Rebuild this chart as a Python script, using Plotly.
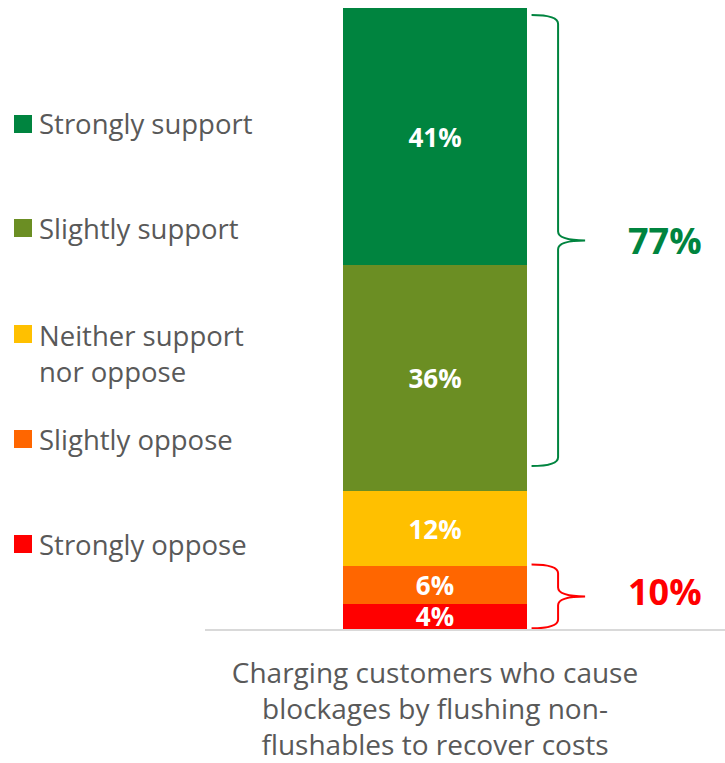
import plotly.graph_objects as go

# Survey responses, bottom of the stack first
categories = ["Strongly oppose", "Slightly oppose", "Neither support<br>nor oppose",
              "Slightly support", "Strongly support"]
values = [4, 6, 12, 36, 41]
colors = ["#FF0000", "#FF6600", "#FFC000", "#6B8E23", "#00843F"]
question = "Charging customers who cause<br>blockages by flushing non-<br>flushables to recover costs"

support_total = values[3] + values[4]
oppose_total = values[0] + values[1]
stack_top = sum(values)

TEXT_GREY = "#595959"
FONT = "Open Sans"

fig = go.Figure()
for name, v, c in zip(categories, values, colors):
    fig.add_trace(go.Bar(
        x=[question], y=[v], name=name.replace("<br>", " "),
        marker=dict(color=c, line=dict(width=0)),
        width=0.6,
        text=[f"{v}%"], textposition="inside", insidetextanchor="middle",
        textfont=dict(family=FONT, size=26, color="white", weight="bold"),
        showlegend=False,
    ))


def brace(y_top, y_bot, x0, x1, x2, r):
    """Right-facing curly brace path (x in paper units, y in data units)."""
    ym = (y_top + y_bot) / 2
    return (f"M {x0},{y_top} Q {x1},{y_top} {x1},{y_top - r} "
            f"L {x1},{ym + r} Q {x1},{ym} {x2},{ym} "
            f"Q {x1},{ym} {x1},{ym - r} "
            f"L {x1},{y_bot + r} Q {x1},{y_bot} {x0},{y_bot}")


X0, X1, X2 = 0.628, 0.679, 0.731
green_top, green_bot = stack_top - 1.1, oppose_total + values[2] + 4.0
red_top, red_bot = oppose_total + 0.3, 0.1

shapes = [
    dict(type="path", xref="paper", yref="y",
         path=brace(green_top, green_bot, X0, X1, X2, 1.4),
         line=dict(color="#00843F", width=2)),
    dict(type="path", xref="paper", yref="y",
         path=brace(red_top, red_bot, X0, X1, X2, 1.4),
         line=dict(color="#FF0000", width=2)),
]

annotations = [
    dict(x=0.885, xref="paper", y=(green_top + green_bot) / 2, yref="y",
         xanchor="center", yanchor="middle",
         text=f"<b>{support_total}%</b>", showarrow=False,
         font=dict(family=FONT, size=36, color="#00843F")),
    dict(x=0.885, xref="paper", y=(red_top + red_bot) / 2 + 0.7, yref="y",
         xanchor="center", yanchor="middle",
         text=f"<b>{oppose_total}%</b>", showarrow=False,
         font=dict(family=FONT, size=36, color="#FF0000")),
]

# Hand-placed legend on the left, top item first
legend_y = [124, 228, 353, 439, 544]   # pixel centres of each entry
H, W = 763, 725
for name, c, py in zip(categories[::-1], colors[::-1], legend_y):
    yc = 1 - (py - 8) / (629 - 8)
    # two-line entry: square sits beside the first line
    sq = py if "<br>" not in name else py - 19
    ys = 1 - (sq - 8) / (629 - 8)
    shapes.append(dict(type="rect", xref="paper", yref="paper",
                       x0=(14 - 205) / 520, x1=(32 - 205) / 520,
                       y0=ys - 9 / 621, y1=ys + 9 / 621,
                       fillcolor=c, line=dict(width=0)))
    annotations.append(dict(x=(37 - 205) / 520, xref="paper", y=yc, yref="paper",
                            xanchor="left", yanchor="middle", align="left",
                            text=name, showarrow=False,
                            font=dict(family=FONT, size=27.5, color=TEXT_GREY)))

fig.update_layout(
    barmode="stack",
    width=W, height=H,
    margin=dict(l=205, r=0, t=8, b=134),
    paper_bgcolor="white", plot_bgcolor="white",
    uniformtext=dict(minsize=26, mode="show"),
    shapes=shapes, annotations=annotations,
    xaxis=dict(range=[-0.75, 0.9457], showline=True, linecolor="#D9D9D9",
               linewidth=2, ticks="", showgrid=False, zeroline=False,
               tickfont=dict(family=FONT, size=28, color=TEXT_GREY),
               ticklabelstandoff=18, fixedrange=True),
    yaxis=dict(range=[0, stack_top], visible=False, fixedrange=True),
    font=dict(family=FONT, color=TEXT_GREY),
)

fig.write_html("out.html")
